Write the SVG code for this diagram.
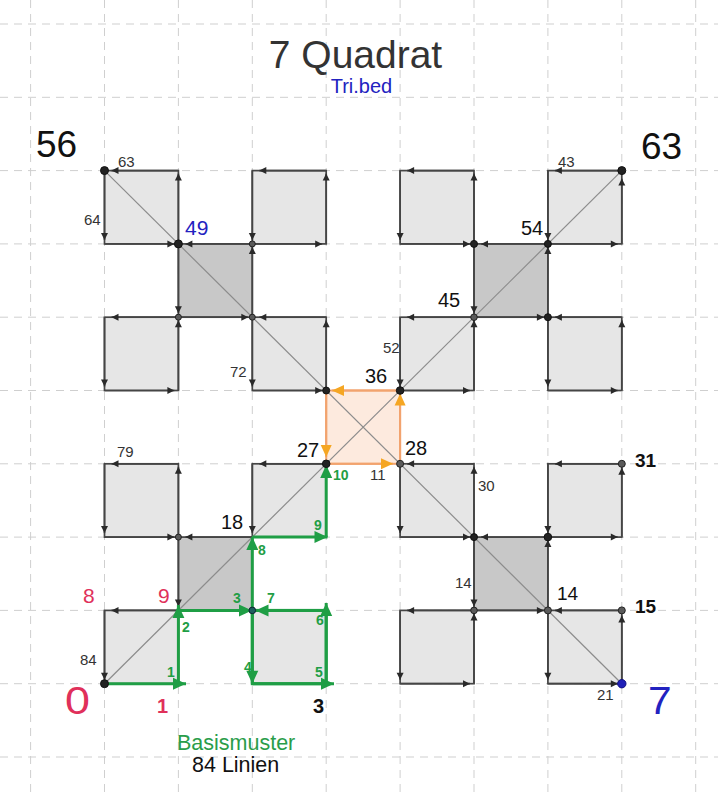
<svg xmlns="http://www.w3.org/2000/svg" width="718" height="796" viewBox="0 0 718 796">
<style>
.grid line{stroke:#cfcfcf;stroke-width:1;stroke-dasharray:8 6}
.lc{fill:#e6e6e6;stroke:#454545;stroke-width:1.7}
.dc{fill:#c8c8c8;stroke:#454545;stroke-width:1.7}
.oc{fill:#fdeade;stroke:#f2a36e;stroke-width:2}
.gc{fill:#e6e6e6;stroke:#1f9e45;stroke-width:3}
.diag{stroke:#8c8c8c;stroke-width:1.2}
.e line{stroke:#454545;stroke-width:1.7;marker-end:url(#ab)}
.o line{stroke:#f2a36e;stroke-width:2;marker-end:url(#ao)}
.g line{stroke:#1f9e45;stroke-width:3;marker-end:url(#ag)}
.dot{fill:#222;stroke:#111;stroke-width:1}
.dotg{fill:#5a5a5a;stroke:#222;stroke-width:1}
text{font-family:"Liberation Sans",Arial,sans-serif}
.sm{font-size:15px;fill:#333}
.md{font-size:20px;fill:#111}
.gl{font-size:14px;font-weight:bold;fill:#1f9e45}
.red{fill:#e0305a}
.blue{fill:#2222c0}
</style>
<defs>
<marker id="ab" markerUnits="userSpaceOnUse" markerWidth="8" markerHeight="8" refX="7" refY="3.5" orient="auto" overflow="visible"><path d="M0,0 L7,3.5 L0,7 z" fill="#2a2a2a"/></marker>
<marker id="ao" markerUnits="userSpaceOnUse" markerWidth="14" markerHeight="12" refX="12" refY="5.5" orient="auto" overflow="visible"><path d="M0,0 L12,5.5 L0,11 z" fill="#f5a623"/></marker>
<marker id="ag" markerUnits="userSpaceOnUse" markerWidth="15" markerHeight="13" refX="13" refY="6" orient="auto" overflow="visible"><path d="M0,0 L13,6 L0,12 z" fill="#1f9e45"/></marker>
</defs>
<rect width="718" height="796" fill="#fff"/>
<g class="grid">
<line x1="30.6" y1="0" x2="30.6" y2="796"/><line x1="104.5" y1="0" x2="104.5" y2="796"/><line x1="178.4" y1="0" x2="178.4" y2="796"/><line x1="252.3" y1="0" x2="252.3" y2="796"/><line x1="326.2" y1="0" x2="326.2" y2="796"/><line x1="400.1" y1="0" x2="400.1" y2="796"/><line x1="474" y1="0" x2="474" y2="796"/><line x1="547.9" y1="0" x2="547.9" y2="796"/><line x1="621.8" y1="0" x2="621.8" y2="796"/><line x1="695.7" y1="0" x2="695.7" y2="796"/>
<line x1="0" y1="24" x2="718" y2="24"/><line x1="0" y1="97.3" x2="718" y2="97.3"/><line x1="0" y1="170.6" x2="718" y2="170.6"/><line x1="0" y1="243.9" x2="718" y2="243.9"/><line x1="0" y1="317.2" x2="718" y2="317.2"/><line x1="0" y1="390.5" x2="718" y2="390.5"/><line x1="0" y1="463.8" x2="718" y2="463.8"/><line x1="0" y1="537.1" x2="718" y2="537.1"/><line x1="0" y1="610.4" x2="718" y2="610.4"/><line x1="0" y1="683.7" x2="718" y2="683.7"/><line x1="0" y1="757" x2="718" y2="757"/>
</g>
<g id="cells">
<g id="cell-0-6"><rect class="lc" x="104.5" y="170.6" width="73.9" height="73.3"/></g>
<g id="cell-2-6"><rect class="lc" x="252.3" y="170.6" width="73.9" height="73.3"/></g>
<g id="cell-4-6"><rect class="lc" x="400.1" y="170.6" width="73.9" height="73.3"/></g>
<g id="cell-6-6"><rect class="lc" x="547.9" y="170.6" width="73.9" height="73.3"/></g>
<g id="cell-1-5"><rect class="dc" x="178.4" y="243.9" width="73.9" height="73.3"/></g>
<g id="cell-5-5"><rect class="dc" x="474" y="243.9" width="73.9" height="73.3"/></g>
<g id="cell-0-4"><rect class="lc" x="104.5" y="317.2" width="73.9" height="73.3"/></g>
<g id="cell-2-4"><rect class="lc" x="252.3" y="317.2" width="73.9" height="73.3"/></g>
<g id="cell-4-4"><rect class="lc" x="400.1" y="317.2" width="73.9" height="73.3"/></g>
<g id="cell-6-4"><rect class="lc" x="547.9" y="317.2" width="73.9" height="73.3"/></g>
<g id="cell-3-3"><rect class="oc" x="326.2" y="390.5" width="73.9" height="73.3"/></g>
<g id="cell-0-2"><rect class="lc" x="104.5" y="463.8" width="73.9" height="73.3"/></g>
<g id="cell-2-2"><rect class="lc" x="252.3" y="463.8" width="73.9" height="73.3"/></g>
<g id="cell-4-2"><rect class="lc" x="400.1" y="463.8" width="73.9" height="73.3"/></g>
<g id="cell-6-2"><rect class="lc" x="547.9" y="463.8" width="73.9" height="73.3"/></g>
<g id="cell-1-1"><rect class="dc" x="178.4" y="537.1" width="73.9" height="73.3"/></g>
<g id="cell-5-1"><rect class="dc" x="474" y="537.1" width="73.9" height="73.3"/></g>
<g id="cell-0-0"><rect class="lc" x="104.5" y="610.4" width="73.9" height="73.3"/></g>
<g id="cell-2-0"><rect class="gc" x="252.3" y="610.4" width="73.9" height="73.3"/></g>
<g id="cell-4-0"><rect class="lc" x="400.1" y="610.4" width="73.9" height="73.3"/></g>
<g id="cell-6-0"><rect class="lc" x="547.9" y="610.4" width="73.9" height="73.3"/></g>
</g>
<g id="diagonals" class="diag">
<line x1="104.5" y1="683.7" x2="621.8" y2="170.6"/>
<line x1="104.5" y1="170.6" x2="621.8" y2="683.7"/>
</g>
<g id="connectors">
<g class="e">
<line x1="104.5" y1="243.9" x2="174.4" y2="243.9"/><line x1="178.4" y1="243.9" x2="178.4" y2="173.6"/><line x1="178.4" y1="170.6" x2="111.5" y2="170.6"/><line x1="104.5" y1="170.6" x2="104.5" y2="239.9"/>
<line x1="252.3" y1="243.9" x2="322.2" y2="243.9"/><line x1="326.2" y1="243.9" x2="326.2" y2="173.6"/><line x1="326.2" y1="170.6" x2="259.3" y2="170.6"/><line x1="252.3" y1="170.6" x2="252.3" y2="239.9"/>
<line x1="400.1" y1="243.9" x2="470" y2="243.9"/><line x1="474" y1="243.9" x2="474" y2="173.6"/><line x1="474" y1="170.6" x2="407.1" y2="170.6"/><line x1="400.1" y1="170.6" x2="400.1" y2="239.9"/>
<line x1="547.9" y1="243.9" x2="617.8" y2="243.9"/><line x1="621.8" y1="243.9" x2="621.8" y2="178.6"/><line x1="621.8" y1="170.6" x2="554.9" y2="170.6"/><line x1="547.9" y1="170.6" x2="547.9" y2="239.9"/>
<line x1="178.4" y1="317.2" x2="248.3" y2="317.2"/><line x1="252.3" y1="317.2" x2="252.3" y2="246.9"/><line x1="252.3" y1="243.9" x2="185.4" y2="243.9"/><line x1="178.4" y1="243.9" x2="178.4" y2="313.2"/>
<line x1="474" y1="317.2" x2="543.9" y2="317.2"/><line x1="547.9" y1="317.2" x2="547.9" y2="246.9"/><line x1="547.9" y1="243.9" x2="481" y2="243.9"/><line x1="474" y1="243.9" x2="474" y2="313.2"/>
<line x1="104.5" y1="390.5" x2="174.4" y2="390.5"/><line x1="178.4" y1="390.5" x2="178.4" y2="320.2"/><line x1="178.4" y1="317.2" x2="111.5" y2="317.2"/><line x1="104.5" y1="317.2" x2="104.5" y2="386.5"/>
<line x1="252.3" y1="390.5" x2="322.2" y2="390.5"/><line x1="326.2" y1="390.5" x2="326.2" y2="320.2"/><line x1="326.2" y1="317.2" x2="259.3" y2="317.2"/><line x1="252.3" y1="317.2" x2="252.3" y2="386.5"/>
<line x1="400.1" y1="390.5" x2="470" y2="390.5"/><line x1="474" y1="390.5" x2="474" y2="320.2"/><line x1="474" y1="317.2" x2="407.1" y2="317.2"/><line x1="400.1" y1="317.2" x2="400.1" y2="386.5"/>
<line x1="547.9" y1="390.5" x2="617.8" y2="390.5"/><line x1="621.8" y1="390.5" x2="621.8" y2="320.2"/><line x1="621.8" y1="317.2" x2="554.9" y2="317.2"/><line x1="547.9" y1="317.2" x2="547.9" y2="386.5"/>
<line x1="104.5" y1="537.1" x2="174.4" y2="537.1"/><line x1="178.4" y1="537.1" x2="178.4" y2="466.8"/><line x1="178.4" y1="463.8" x2="111.5" y2="463.8"/><line x1="104.5" y1="463.8" x2="104.5" y2="533.1"/>
<line x1="326.2" y1="463.8" x2="259.3" y2="463.8"/><line x1="252.3" y1="463.8" x2="252.3" y2="533.1"/>
<line x1="400.1" y1="537.1" x2="470" y2="537.1"/><line x1="474" y1="537.1" x2="474" y2="466.8"/><line x1="474" y1="463.8" x2="407.1" y2="463.8"/><line x1="400.1" y1="463.8" x2="400.1" y2="533.1"/>
<line x1="547.9" y1="537.1" x2="617.8" y2="537.1"/><line x1="621.8" y1="537.1" x2="621.8" y2="467.8"/><line x1="621.8" y1="463.8" x2="554.9" y2="463.8"/><line x1="547.9" y1="463.8" x2="547.9" y2="533.1"/>
<line x1="252.3" y1="537.1" x2="185.4" y2="537.1"/><line x1="178.4" y1="537.1" x2="178.4" y2="606.4"/>
<line x1="474" y1="610.4" x2="543.9" y2="610.4"/><line x1="547.9" y1="610.4" x2="547.9" y2="540.1"/><line x1="547.9" y1="537.1" x2="481" y2="537.1"/><line x1="474" y1="537.1" x2="474" y2="606.4"/>
<line x1="178.4" y1="610.4" x2="111.5" y2="610.4"/><line x1="104.5" y1="610.4" x2="104.5" y2="679.7"/>
<line x1="400.1" y1="683.7" x2="470" y2="683.7"/><line x1="474" y1="683.7" x2="474" y2="613.4"/><line x1="474" y1="610.4" x2="407.1" y2="610.4"/><line x1="400.1" y1="610.4" x2="400.1" y2="679.7"/>
<line x1="547.9" y1="683.7" x2="617.8" y2="683.7"/><line x1="621.8" y1="683.7" x2="621.8" y2="615.4"/><line x1="621.8" y1="610.4" x2="554.9" y2="610.4"/><line x1="547.9" y1="610.4" x2="547.9" y2="679.7"/>
</g>
<g class="o">
<line x1="326.2" y1="463.8" x2="393" y2="463.8"/><line x1="400.1" y1="463.8" x2="400.1" y2="393.5"/><line x1="400.1" y1="390.5" x2="332" y2="390.5"/><line x1="326.2" y1="390.5" x2="326.2" y2="457"/>
</g>
<g class="g">
<line x1="104.5" y1="683.7" x2="186" y2="683.7"/>
<line x1="178.4" y1="683.7" x2="178.4" y2="605"/>
<line x1="178.4" y1="610.4" x2="252" y2="610.4"/>
<line x1="252.3" y1="610.4" x2="252.3" y2="683.7"/>
<line x1="252.3" y1="683.7" x2="334" y2="683.7"/>
<line x1="326.2" y1="683.7" x2="326.2" y2="603"/>
<line x1="326.2" y1="610.4" x2="255.5" y2="610.4"/>
<line x1="252.3" y1="610.4" x2="252.3" y2="537.1"/>
<line x1="252.3" y1="537.1" x2="327.5" y2="537.1"/>
<line x1="326.2" y1="537.1" x2="326.2" y2="465"/>
</g>
</g>
<g id="points">
<circle class="dot" cx="104.5" cy="170.6" r="4"/><circle class="dot" cx="621.8" cy="170.6" r="4"/><circle class="dot" cx="178.4" cy="243.9" r="4"/>
<circle class="dotg" cx="252.3" cy="243.9" r="3"/><circle class="dot" cx="474" cy="243.9" r="3.5"/><circle class="dot" cx="547.9" cy="243.9" r="3.5"/>
<circle class="dotg" cx="178.4" cy="317.2" r="3"/><circle class="dotg" cx="252.3" cy="317.2" r="3"/><circle class="dotg" cx="474" cy="317.2" r="3.3"/><circle class="dot" cx="547.9" cy="317.2" r="3.5"/>
<circle class="dot" cx="326.2" cy="390.5" r="3.5"/><circle class="dot" cx="400.1" cy="390.5" r="3.8"/>
<circle class="dot" cx="326.2" cy="463.8" r="3.8"/><circle class="dotg" cx="400.1" cy="463.8" r="3.5"/><circle class="dotg" cx="621.8" cy="463.8" r="3.5"/>
<circle class="dotg" cx="178.4" cy="537.1" r="3"/><circle class="dot" cx="474" cy="537.1" r="3.5"/><circle class="dot" cx="547.9" cy="537.1" r="3.8"/>
<circle cx="252.3" cy="610.4" r="3.3" fill="#1e5e5e" stroke="#123" stroke-width="1"/><circle class="dotg" cx="474" cy="610.4" r="3.3"/><circle class="dotg" cx="547.9" cy="610.4" r="3.5"/><circle class="dotg" cx="621.8" cy="610.4" r="3.5"/>
<circle class="dot" cx="104.5" cy="683.7" r="4"/><circle cx="621.8" cy="683.7" r="4.2" fill="#2020b8" stroke="#101080" stroke-width="1"/>
</g>
<g id="labels">
<text x="355.5" y="68" font-size="39" fill="#333" text-anchor="middle">7 Quadrat</text>
<text x="361.5" y="93" font-size="20" class="blue" text-anchor="middle">Tri.bed</text>
<text x="36" y="157" font-size="37" fill="#111">56</text>
<text x="641" y="159" font-size="37" fill="#111">63</text>
<text x="185" y="235" font-size="21" class="blue">49</text>
<text x="521" y="235" class="md">54</text>
<text x="438" y="307" class="md">45</text>
<text x="365" y="383" class="md">36</text>
<text x="297" y="457" class="md" font-size="21">27</text>
<text x="405" y="455" class="md">28</text>
<text x="221" y="529" class="md">18</text>
<text x="83" y="603" font-size="21" class="red">8</text>
<text x="158" y="603" font-size="21" class="red">9</text>
<text x="557" y="600" font-size="19" fill="#111">14</text>
<text x="635" y="467" font-size="19" font-weight="bold" fill="#111">31</text>
<text x="635" y="613" font-size="19" font-weight="bold" fill="#111">15</text>
<text transform="translate(65,714) scale(1.15,1)" font-size="39" class="red">0</text>
<text transform="translate(648,714) scale(1.12,1)" font-size="38" class="blue">7</text>
<text x="157" y="713" font-size="20" font-weight="bold" class="red">1</text>
<text x="313" y="713" font-size="20" font-weight="bold" fill="#111">3</text>
<text x="118" y="167" class="sm">63</text>
<text x="84" y="225" class="sm">64</text>
<text x="558" y="167" class="sm">43</text>
<text x="230" y="377" class="sm">72</text>
<text x="117" y="457" class="sm">79</text>
<text x="383" y="353" class="sm">52</text>
<text x="370" y="480" class="sm">11</text>
<text x="478" y="491" class="sm">30</text>
<text x="455" y="588" class="sm">14</text>
<text x="80" y="665" class="sm">84</text>
<text x="597" y="700" class="sm">21</text>
<text x="167" y="677" class="gl">1</text>
<text x="182" y="632" class="gl">2</text>
<text x="233" y="603" class="gl">3</text>
<text x="244" y="672" class="gl">4</text>
<text x="315" y="677" class="gl">5</text>
<text x="316" y="625" class="gl">6</text>
<text x="267" y="603" class="gl">7</text>
<text x="258" y="555" class="gl">8</text>
<text x="314" y="530" class="gl">9</text>
<text x="333" y="480" class="gl">10</text>
<text x="177" y="750" font-size="21.5" fill="#2a9d4a">Basismuster</text>
<text x="192" y="772" font-size="21.5" fill="#111">84 Linien</text>
</g>
</svg>
